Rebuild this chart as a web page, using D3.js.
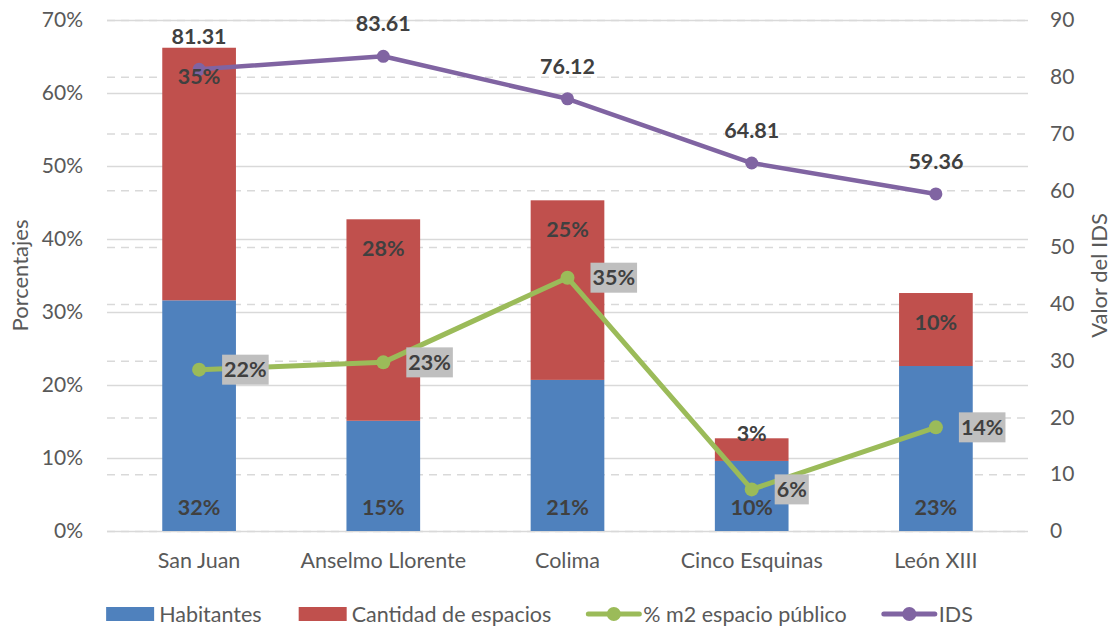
<!DOCTYPE html>
<html>
<head>
<meta charset="utf-8">
<script src="https://cdn.jsdelivr.net/npm/d3@7"></script>
<style>
  html, body { margin: 0; padding: 0; background: #fff; }
  svg { display: block; font-family: Lato, "Open Sans", sans-serif; }
</style>
</head>
<body>
<svg id="chart" width="1112" height="626"></svg>
<script>
// Neighbourhood indicators: stacked shares, public-space share and IDS score
const categories = ["San Juan", "Anselmo Llorente", "Colima", "Cinco Esquinas", "León XIII"];
const habitantes = [0.316, 0.151, 0.207, 0.096, 0.226];
const cantidadEspacios = [0.346, 0.276, 0.246, 0.031, 0.100];
const espacioPublico = [0.221, 0.231, 0.347, 0.057, 0.142];
const ids = [81.31, 83.61, 76.12, 64.81, 59.36];
const leftTicks = [0, 0.1, 0.2, 0.3, 0.4, 0.5, 0.6, 0.7];
const rightTicks = [0, 10, 20, 30, 40, 50, 60, 70, 80, 90];
const seriesNames = ["Habitantes", "Cantidad de espacios", "% m2 espacio público", "IDS"];

const colors = { hab: "#4F81BD", cant: "#C0504D", pub: "#9BBB59", ids: "#8064A2" };
const textGrey = "#595959", labelDark = "#404040", gridGrey = "#D9D9D9";
const tickSize = "21px", labelSize = "21.5px", legendSize = "21.5px";

const svg = d3.select("#chart");
const plot = { left: 107, right: 1028, top: 20, bottom: 531 };

const x = d3.scaleBand().domain(categories)
  .range([plot.left, plot.right]).paddingInner(0.6).paddingOuter(0.3);
const yL = d3.scaleLinear().domain([0, 0.7]).range([plot.bottom, plot.top]);
const yR = d3.scaleLinear().domain([0, 90]).range([plot.bottom, plot.top]);
const cx = c => x(c) + x.bandwidth() / 2;
const pct = d3.format(".0%");

// Gridlines: dashed for the IDS axis, solid for the percentage axis
const gridR = svg.append("g").attr("transform", `translate(${plot.left},0)`)
  .call(d3.axisLeft(yR).tickValues(rightTicks).tickSize(-(plot.right - plot.left)).tickFormat(""));
gridR.select(".domain").remove();
gridR.selectAll("line").attr("stroke", gridGrey).attr("stroke-width", 1.5).attr("stroke-dasharray", "8,6");

const gridL = svg.append("g").attr("transform", `translate(${plot.left},0)`)
  .call(d3.axisLeft(yL).tickValues(leftTicks).tickSize(-(plot.right - plot.left)).tickFormat(""));
gridL.select(".domain").remove();
gridL.selectAll("line").attr("stroke", gridGrey).attr("stroke-width", 1.5);

// Tick labels
const axL = svg.append("g").attr("transform", `translate(${plot.left},0)`)
  .call(d3.axisLeft(yL).tickValues(leftTicks).tickFormat(pct).tickSize(0).tickPadding(24));
axL.select(".domain").remove();
axL.selectAll("text").attr("fill", textGrey).style("font-size", tickSize).style("font-family", "Lato");

const axR = svg.append("g").attr("transform", `translate(${plot.right},0)`)
  .call(d3.axisRight(yR).tickValues(rightTicks).tickSize(0).tickPadding(22));
axR.select(".domain").remove();
axR.selectAll("text").attr("fill", textGrey).style("font-size", tickSize).style("font-family", "Lato");

const axX = svg.append("g").attr("transform", `translate(0,${plot.bottom})`)
  .call(d3.axisBottom(x).tickSize(0).tickPadding(22));
axX.select(".domain").remove();
axX.selectAll("text").attr("fill", textGrey).style("font-size", legendSize).style("font-family", "Lato");

// Axis titles
svg.append("text").attr("transform", `translate(28,${(plot.top + plot.bottom) / 2}) rotate(-90)`)
  .attr("text-anchor", "middle").attr("fill", textGrey).style("font-size", "22px").text("Porcentajes");
svg.append("text").attr("transform", `translate(1107,${(plot.top + plot.bottom) / 2}) rotate(-90)`)
  .attr("text-anchor", "middle").attr("fill", textGrey).style("font-size", "22px").text("Valor del IDS");

// Stacked bars
const rows = categories.map((c, i) => ({ c, hab: habitantes[i], cant: cantidadEspacios[i] }));
svg.append("g").selectAll("rect").data(rows).join("rect")
  .attr("x", d => x(d.c)).attr("width", x.bandwidth())
  .attr("y", d => yL(d.hab)).attr("height", d => yL(0) - yL(d.hab))
  .attr("fill", colors.hab);
svg.append("g").selectAll("rect").data(rows).join("rect")
  .attr("x", d => x(d.c)).attr("width", x.bandwidth())
  .attr("y", d => yL(d.hab + d.cant)).attr("height", d => yL(d.hab) - yL(d.hab + d.cant))
  .attr("fill", colors.cant);

// Lines with markers
const pubPts = categories.map((c, i) => [cx(c), yL(espacioPublico[i])]);
const idsPts = categories.map((c, i) => [cx(c), yR(ids[i])]);
const line = d3.line();
svg.append("path").attr("d", line(pubPts)).attr("fill", "none")
  .attr("stroke", colors.pub).attr("stroke-width", 5).attr("stroke-linejoin", "round");
svg.append("g").selectAll("circle").data(pubPts).join("circle")
  .attr("cx", d => d[0]).attr("cy", d => d[1]).attr("r", 7).attr("fill", colors.pub);
svg.append("path").attr("d", line(idsPts)).attr("fill", "none")
  .attr("stroke", colors.ids).attr("stroke-width", 4.5).attr("stroke-linejoin", "round");
svg.append("g").selectAll("circle").data(idsPts).join("circle")
  .attr("cx", d => d[0]).attr("cy", d => d[1]).attr("r", 6.5).attr("fill", colors.ids);

// Data labels
const lbl = svg.append("g").attr("fill", labelDark).style("font-weight", "bold").style("font-size", labelSize);

// Habitantes: inside the base of the bar
lbl.selectAll(".hab").data(rows).join("text")
  .attr("x", d => cx(d.c)).attr("y", plot.bottom - 16).attr("text-anchor", "middle")
  .text(d => pct(d.hab));

// Cantidad de espacios: inside the top of its segment, kept clear of the lower edge
lbl.selectAll(".cant").data(rows).join("text")
  .attr("x", d => cx(d.c))
  .attr("y", d => Math.min(yL(d.hab + d.cant) + 29, yL(d.hab) - 27))
  .attr("dy", "0.35em").attr("text-anchor", "middle")
  .text(d => pct(d.cant));

// IDS values above the markers
lbl.selectAll(".ids").data(idsPts).join("text")
  .attr("x", d => d[0]).attr("y", d => d[1] - 25).attr("text-anchor", "middle")
  .text((d, i) => ids[i].toFixed(2));

// Public-space share in grey boxes to the right of the markers
const pubLbl = svg.append("g").selectAll("g").data(pubPts).join("g")
  .attr("transform", d => `translate(${d[0] + 23},${d[1]})`);
pubLbl.append("rect").attr("fill", "#BFBFBF");
const pubTx = pubLbl.append("text").attr("fill", labelDark)
  .style("font-weight", "bold").style("font-size", labelSize)
  .attr("x", 2).attr("dy", "0.36em").text((d, i) => pct(espacioPublico[i]));
pubTx.each(function () {
  const w = this.getComputedTextLength();
  d3.select(this.parentNode).select("rect")
    .attr("x", 0).attr("y", -15).attr("width", w + 4).attr("height", 30);
});

// Legend
const legend = svg.append("g").style("font-size", legendSize).attr("fill", textGrey);
const items = [
  { name: seriesNames[0], type: "rect", color: colors.hab },
  { name: seriesNames[1], type: "rect", color: colors.cant },
  { name: seriesNames[2], type: "line", color: colors.pub },
  { name: seriesNames[3], type: "line", color: colors.ids }
];
const ly = 614;
const itemGroups = legend.selectAll("g").data(items).join("g");
itemGroups.each(function (d) {
  const g = d3.select(this);
  if (d.type === "rect") {
    g.append("rect").attr("x", 0).attr("y", ly - 7).attr("width", 48).attr("height", 14).attr("fill", d.color);
  } else {
    g.append("line").attr("x1", 0).attr("x2", 51).attr("y1", ly).attr("y2", ly)
      .attr("stroke", d.color).attr("stroke-width", 5).attr("stroke-linecap", "round");
    g.append("circle").attr("cx", 25.5).attr("cy", ly).attr("r", 7).attr("fill", d.color);
  }
  g.append("text").attr("x", d.type === "rect" ? 53 : 55).attr("y", ly).attr("dy", "0.35em").text(d.name);
});
// Lay the items out in a row, centred under the plot
const widths = [];
itemGroups.each(function () { widths.push(this.getBBox().width); });
const gap = 37;
const total = d3.sum(widths) + gap * (widths.length - 1);
let cursor = 539.5 - total / 2;
itemGroups.attr("transform", (d, i) => {
  const t = `translate(${cursor},0)`;
  cursor += widths[i] + gap;
  return t;
});
</script>
</body>
</html>
